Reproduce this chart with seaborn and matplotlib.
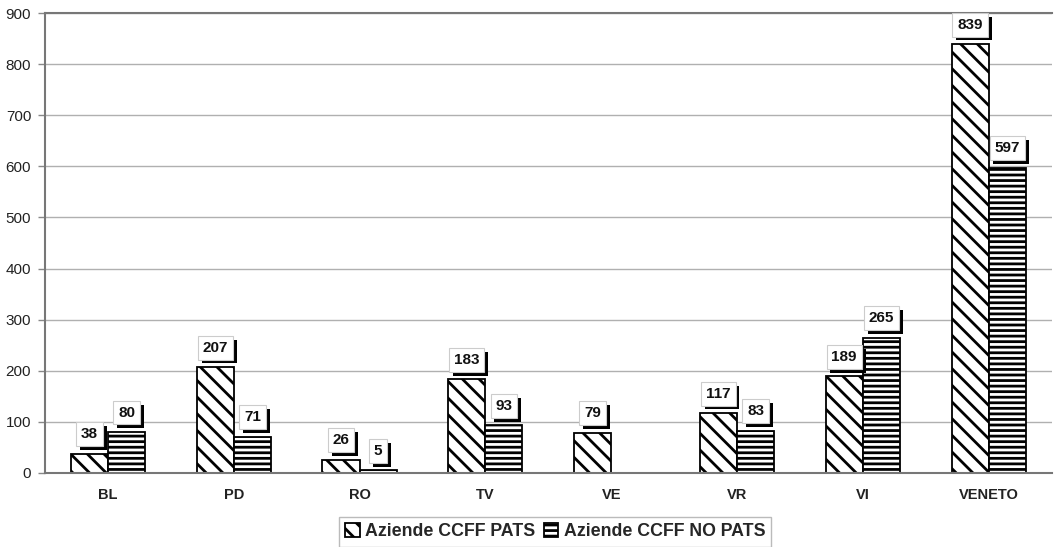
import matplotlib
matplotlib.use("Agg")
import matplotlib.pyplot as plt
import matplotlib.patheffects as pe
import numpy as np
import pandas as pd
import seaborn as sns

categories = ["BL", "PD", "RO", "TV", "VE", "VR", "VI", "VENETO"]
pats = [38, 207, 26, 183, 79, 117, 189, 839]
no_pats = [80, 71, 5, 93, np.nan, 83, 265, 597]
series = ["Aziende CCFF PATS", "Aziende CCFF NO PATS"]
y_ticks = [0, 100, 200, 300, 400, 500, 600, 700, 800, 900]

df = pd.DataFrame({
    "cat": categories * 2,
    "val": pats + no_pats,
    "serie": [series[0]] * len(categories) + [series[1]] * len(categories),
})

sns.set_theme(style="white")
plt.rcParams["font.family"] = ["Liberation Sans", "DejaVu Sans"]
plt.rcParams["hatch.linewidth"] = 2.0
plt.rcParams["hatch.color"] = "black"

fig = plt.figure(figsize=(10.55, 5.47), dpi=100)
ax = fig.add_axes([0.0427, 0.1353, 0.954, 0.8409])

sns.barplot(data=df, x="cat", y="val", hue="serie", order=categories,
            hue_order=series, width=0.59, palette=["white", "white"],
            edgecolor="black", linewidth=1.3, ax=ax, errorbar=None,
            legend=True)

hatches = ["\\\\", "---"]
for cont, h in zip(ax.containers, hatches):
    for bar in cont:
        bar.set_hatch(h)
        bar.set_facecolor("white")
        bar.set_edgecolor("black")

# value boxes with drop shadow
for cont in ax.containers:
    for bar in cont:
        v = bar.get_height()
        if v is None or np.isnan(v):
            continue
        t = ax.annotate(f"{int(v)}", (bar.get_x() + bar.get_width() / 2, v),
                        xytext=(0, 9), textcoords="offset points",
                        ha="center", va="bottom", fontsize=11,
                        fontweight="bold", color="#111111",
                        bbox=dict(boxstyle="square,pad=0.32", fc="white",
                                  ec="#cccccc", lw=0.8))
        t.get_bbox_patch().set_path_effects([
            pe.withSimplePatchShadow(offset=(2.8, -2.8), shadow_rgbFace="black",
                                     alpha=1.0),
        ])

ax.set_ylim(0, 900)
ax.set_yticks(y_ticks)
ax.set_yticklabels([str(v) for v in y_ticks], fontsize=11, color="#222222")
ax.set_xlim(-0.5, len(categories) - 0.5)
ax.set_xticks(range(len(categories)))
ax.set_xticklabels(categories, fontsize=10.5, fontweight="bold", color="#222222")
ax.tick_params(axis="x", length=0, pad=11)
ax.set_xticks(np.arange(-0.5, len(categories) + 0.5, 1), minor=True)
ax.tick_params(axis="x", which="minor", length=5, color="#888888", width=1)
ax.tick_params(axis="y", length=5, color="#888888", width=1, left=True, pad=5)
ax.set_xlabel("")
ax.set_ylabel("")

ax.yaxis.grid(True, color="#b0b0b0", linewidth=1.0)
ax.set_axisbelow(True)
for side in ["left", "top", "bottom"]:
    ax.spines[side].set_visible(True)
    ax.spines[side].set_color("#777777")
    ax.spines[side].set_linewidth(1.5)
ax.spines["right"].set_visible(False)

handles, labels = ax.get_legend_handles_labels()
for hnd, h in zip(handles, hatches):
    hnd.set_hatch(h)
    hnd.set_facecolor("white")
    hnd.set_edgecolor("black")
ax.legend(handles, labels, loc="center", bbox_to_anchor=(0.507, -0.128),
          ncol=2, frameon=True, fancybox=False, edgecolor="#aaaaaa",
          handlelength=0.8, handleheight=0.8, handletextpad=0.3,
          columnspacing=0.5, borderpad=0.35,
          prop=dict(weight="bold", size=12.8))

fig.savefig("out.png", dpi=100)
